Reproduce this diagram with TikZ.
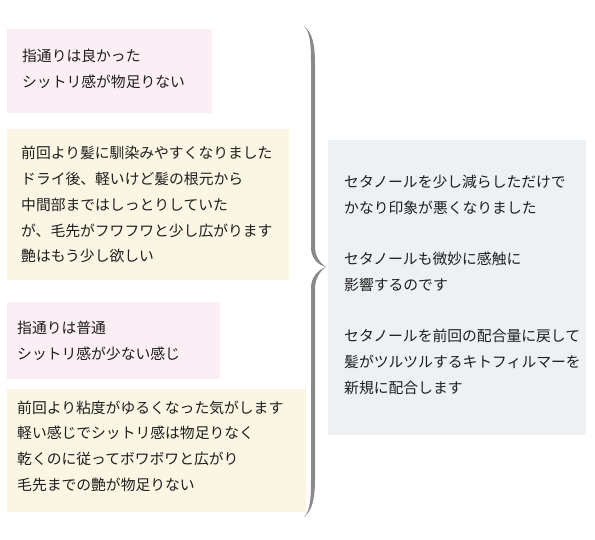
\documentclass[tikz,border=0pt]{standalone}
\usepackage{fontspec}
\setmainfont{Noto Sans CJK JP}
\usepackage{tikz}
\usetikzlibrary{positioning}
\usepackage{xcolor}
\definecolor{memopink}{RGB}{252,238,245}
\definecolor{memocream}{RGB}{250,246,227}
\definecolor{memogray}{RGB}{238,241,244}
\definecolor{bracegray}{RGB}{138,138,138}
\definecolor{inkgray}{RGB}{30,30,30}
\hfuzz=20pt
% extra room under the last line, lifts the text in its box
\newcommand{\liftby}[1]{\par\vspace*{#1}}

\begin{document}
\begin{tikzpicture}[x=1pt,y=-1pt,
  memo/.style={anchor=north west, inner ysep=0pt, align=left, text=inkgray,
    font=\fontsize{14.8}{25.7}\selectfont},
  pinkmemo/.style={memo, fill=memopink},
  creammemo/.style={memo, fill=memocream}]
\useasboundingbox (0,0) rectangle (595,539);
% left column: reports
\node[pinkmemo, inner xsep=15pt, text width=175pt, minimum height=84pt] (good) at (7,29)
  {指通りは良かった\\シットリ感が物足りない\liftby{4pt}};
\node[creammemo, inner xsep=14pt, text width=254pt, minimum height=151pt] (prev) at (7,129)
  {前回より髪に馴染みやすくなりました\\ドライ後、軽いけど髪の根元から\\中間部まではしっとりしていた\\が、毛先がフワフワと少し広がります\\艶はもう少し欲しい};
\node[pinkmemo, inner xsep=10pt, text width=193pt, minimum height=77pt] (plain) at (7,302)
  {指通りは普通\\シットリ感が少ない感じ};
\node[creammemo, inner xsep=10pt, text width=279pt, minimum height=123pt] (thin) at (7,389)
  {前回より粘度がゆるくなった気がします\\軽い感じでシットリ感は物足りなく\\乾くのに従ってボワボワと広がり\\毛先までの艶が物足りない\liftby{9pt}};
% right column: conclusion
\node[memo, fill=memogray, inner xsep=16pt, text width=226pt, minimum height=295pt] (result) at (328,140)
  {セタノールを少し減らしただけで\\かなり印象が悪くなりました\\[25.7pt]
   セタノールも微妙に感触に\\影響するのです\\[25.7pt]
   セタノールを前回の配合量に戻して\\髪がツルツルするキトフィルマーを\\新規に配合します\liftby{6pt}};
% brace
\coordinate (bt) at (304,26);
\coordinate (tip) at (326,267);
\coordinate (bb) at (304,517);
\fill[bracegray] (bt) .. controls (310,32) and (311,44) .. (311,62) -- (311,248)
  .. controls (311,258) and (318,265) .. (tip)
  .. controls (319,262) and (315,256) .. (315,246) -- (315,64)
  .. controls (315,44) and (312,32) .. (bt) -- cycle;
\fill[bracegray] (bb) .. controls (310,511) and (311,499) .. (311,481) -- (311,288)
  .. controls (311,277) and (318,270) .. (tip)
  .. controls (319,272) and (315,279) .. (315,290) -- (315,479)
  .. controls (315,499) and (312,511) .. (bb) -- cycle;
\end{tikzpicture}
\end{document}
